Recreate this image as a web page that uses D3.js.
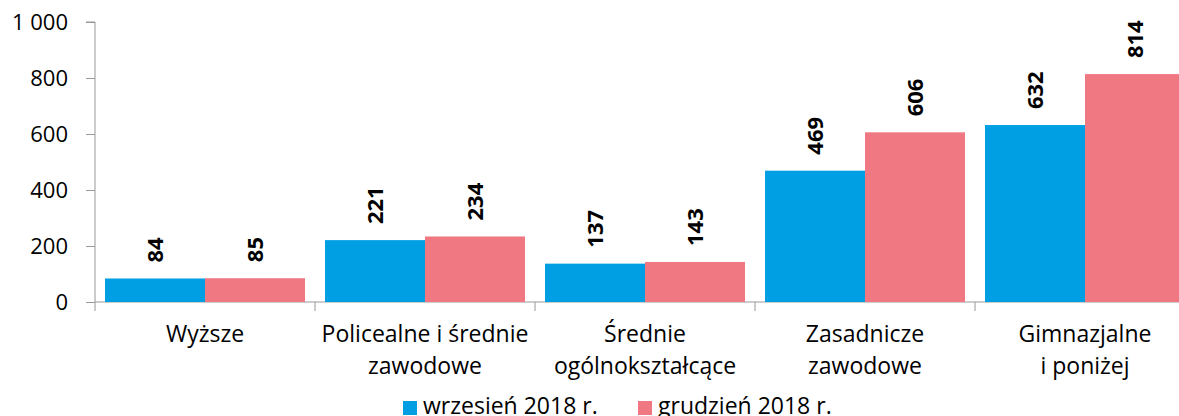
<!DOCTYPE html>
<html><head><meta charset="utf-8">
<script src="https://cdn.jsdelivr.net/npm/d3@7"></script>
<style>body{margin:0;background:#fff}svg{display:block}text{font-family:"Open Sans",Lato,sans-serif}</style>
</head><body>
<svg id="c" width="1179" height="416"></svg>
<script>
const categories = [["Wyższe"],["Policealne i średnie","zawodowe"],["Średnie","ogólnokształcące"],["Zasadnicze","zawodowe"],["Gimnazjalne","i poniżej"]];
const seriesNames = ["wrzesień 2018 r.","grudzień 2018 r."];
const wrzesien = [84,221,137,469,632];
const grudzien = [85,234,143,606,814];
const yTicks = [0,200,400,600,800,1000];
const colors = ["#009FE3","#F07882"];

const FF = "Open Sans", FS = 22, FSL = 23;
const svg = d3.select("#c");
const x0 = 95, y0 = 302, yTop = 22, catW = 220;
const x = d3.scaleBand().domain(d3.range(categories.length)).range([x0, x0 + catW*categories.length]);
const xi = d3.scaleBand().domain([0,1]).range([10, catW-10]);
const y = d3.scaleLinear().domain([0,1000]).range([y0, yTop]);
const fmt = v => d3.format(",")(v).replace(/,/g," ");

// y axis
const ya = svg.append("g").attr("transform",`translate(${x0},0)`)
  .call(d3.axisLeft(y).tickValues(yTicks).tickSize(9).tickPadding(18).tickFormat(fmt));
ya.select(".domain").attr("stroke","#999").attr("d",`M-9,${yTop}H0V${y0}`);
ya.selectAll(".tick line").attr("stroke","#999");
ya.selectAll(".tick text").attr("font-size",FS).attr("fill","#000").attr("font-family",FF);

// x axis
const xa = svg.append("g").attr("transform",`translate(0,${y0})`);
xa.append("line").attr("x1",x0).attr("x2",1179).attr("stroke","#999");
xa.selectAll("line.t").data(d3.range(categories.length+1)).join("line").attr("class","t")
  .attr("x1",d=>x0+d*catW).attr("x2",d=>x0+d*catW).attr("y1",0).attr("y2",9).attr("stroke","#999");

const data = [wrzesien, grudzien];
data.forEach((s,si)=>{
  svg.append("g").selectAll("rect").data(s).join("rect")
    .attr("x",(d,i)=>x(i)+xi(si)).attr("width",xi.bandwidth())
    .attr("y",d=>y(d)).attr("height",d=>y0-y(d)).attr("fill",colors[si]);
  svg.append("g").selectAll("text").data(s).join("text")
    .attr("transform",(d,i)=>`translate(${x(i)+xi(si)+xi.bandwidth()/2},${y(d)-16}) rotate(-90)`)
    .attr("dy","0.36em").attr("font-size",FS).attr("font-weight","bold").attr("fill","#000")
    .text(d=>d);
});

// category labels
categories.forEach((c,i)=>{
  const t = svg.append("text").attr("text-anchor","middle").attr("font-size",FSL).attr("fill","#000");
  c.forEach((l,li)=>t.append("tspan").attr("x",x(i)+catW/2).attr("y",342+li*32).text(l));
});

// legend
const lg = [[403,423],[638,658]];
seriesNames.forEach((n,i)=>{
  svg.append("rect").attr("x",lg[i][0]).attr("y",401).attr("width",14).attr("height",14).attr("fill",colors[i]);
  svg.append("text").attr("x",lg[i][1]).attr("y",414).attr("font-size",FSL).attr("fill","#000").text(n);
});
</script></body></html>
